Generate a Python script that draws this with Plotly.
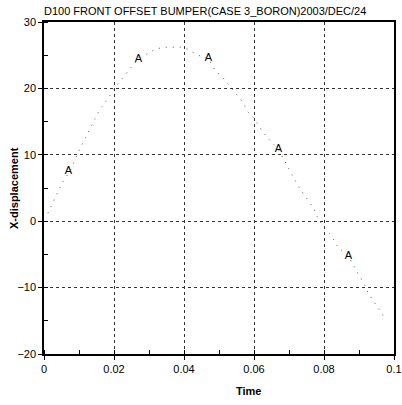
import plotly.graph_objects as go

time = [0.0011, 0.0051, 0.0074, 0.0096, 0.016, 0.0175, 0.021, 0.0246, 0.027, 0.0317, 0.0343,
        0.039, 0.041, 0.044, 0.047, 0.049, 0.051, 0.057, 0.058, 0.060, 0.0626, 0.064, 0.067,
        0.0725, 0.0756, 0.077, 0.078, 0.080, 0.082, 0.084, 0.087, 0.092, 0.0926, 0.0955, 0.097]
xdisp = [1.2, 5.7, 7.5, 10.2, 16.9, 17.9, 20.6, 23.0, 24.4, 25.9, 26.2,
         26.2, 25.9, 25.0, 24.5, 22.6, 21.7, 17.8, 16.6, 15.5, 13.4, 12.5, 10.8,
         5.4, 3.0, 2.0, 0.75, -1.0, -2.1, -3.9, -5.3, -10.0, -10.8, -13.1, -14.3]
marker_t = [0.007, 0.027, 0.047, 0.067, 0.087]
marker_x = [7.5, 24.4, 24.5, 10.8, -5.3]

x_ticks = [0, 0.02, 0.04, 0.06, 0.08, 0.1]
x_ticklabels = ["0", "0.02", "0.04", "0.06", "0.08", "0.1"]
y_ticks = [-20, -10, 0, 10, 20, 30]

FONT = "Liberation Sans, Arial"

fig = go.Figure()
fig.add_trace(go.Scatter(x=time, y=xdisp, mode="lines",
                         line=dict(color="#555", width=1, dash="1px,6px"),
                         showlegend=False))
fig.add_trace(go.Scatter(x=marker_t, y=marker_x, mode="text", text=["A"] * 5,
                         textfont=dict(family=FONT, size=11, color="black"),
                         textposition="middle center", showlegend=False))

axis_common = dict(showline=True, linecolor="black", linewidth=1.5, mirror=True,
                   showgrid=True, gridcolor="#333", griddash="dot", gridwidth=1,
                   ticks="outside", ticklen=4, tickcolor="black", zeroline=False,
                   automargin=False,
                   tickfont=dict(family=FONT, size=11, color="black"))

fig.update_xaxes(range=[0, 0.1], tickvals=x_ticks, ticktext=x_ticklabels,
                 ticklabeloverflow="allow",
                 minor=dict(dtick=0.01, ticks="inside", ticklen=4, tickcolor="black", showgrid=False),
                 **axis_common)
fig.update_yaxes(range=[-20, 30], tickvals=y_ticks,
                 minor=dict(dtick=5, ticks="inside", ticklen=4, tickcolor="black", showgrid=False),
                 **axis_common)

fig.add_annotation(text="<b>Time</b>", xref="paper", yref="paper", x=0.585, y=-37 / 332,
                   xanchor="center", yanchor="middle", showarrow=False,
                   font=dict(family=FONT, size=11, color="black"))
fig.add_annotation(text="<b>X-displacement</b>", xref="paper", yref="paper", x=-30 / 350, y=0.5,
                   xanchor="center", yanchor="middle", textangle=-90, showarrow=False,
                   font=dict(family=FONT, size=11, color="black"))

fig.update_layout(
    width=402, height=405,
    margin=dict(l=44, r=8, t=22, b=51),
    paper_bgcolor="white", plot_bgcolor="white",
    title=dict(text="D100 FRONT OFFSET BUMPER(CASE 3_BORON)2003/DEC/24",
               x=44 / 402, xanchor="left", y=1 - 11 / 405, yanchor="middle",
               font=dict(family=FONT, size=11, color="black")),
)
fig.write_html("out.html")
